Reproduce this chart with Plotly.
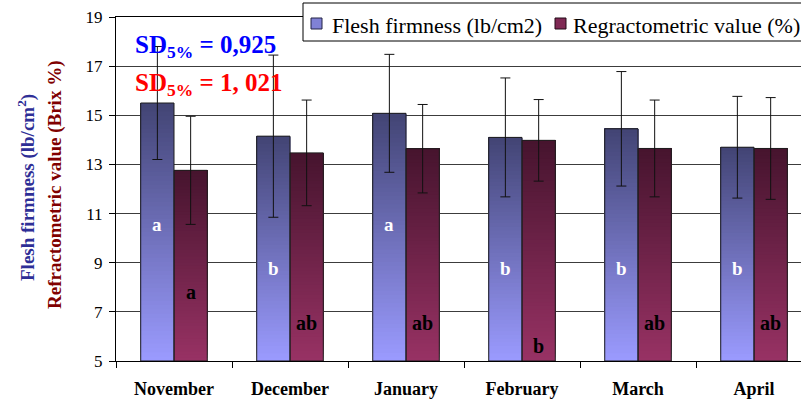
import plotly.graph_objects as go

# ---- data -------------------------------------------------------------
months = ["November", "December", "January", "February", "March", "April"]

firmness = [15.5, 14.15, 15.08, 14.1, 14.45, 13.7]        # lb/cm2
firmness_err = [2.3, 3.3, 2.4, 2.42, 2.33, 2.07]
firmness_groups = ["a", "b", "a", "b", "b", "b"]

brix = [12.76, 13.47, 13.64, 13.98, 13.65, 13.65]         # Brix %
brix_err = [2.2, 2.15, 1.8, 1.66, 1.97, 2.07]
brix_groups = ["a", "ab", "ab", "b", "ab", "ab"]

sd_firmness = "0,925"
sd_brix = "1, 021"

# ---- geometry / style -------------------------------------------------
W, H = 801, 402
ML, MR, MT, MB = 116, 0, 17, 41
PW, PH = W - ML - MR, H - MT - MB
Y0, Y1 = 5, 19
X_RANGE = [-0.5, 5.405]
BAR_W = 0.287

SERIF = "Liberation Serif, Times New Roman, serif"

BLUE_TOP, BLUE_BOTTOM = (66, 68, 116), (155, 155, 255)
RED_TOP, RED_BOTTOM = (70, 20, 46), (152, 50, 100)

# letter heights (data units) inside the bars
firm_label_y = {"a": 10.55, "b": 8.77}
brix_label_y = {"a": 7.8, "ab": 6.56, "b": 5.63}


def px_x(px):
    return (px - ML) / PW


def px_y(py):
    return (H - MB - py) / PH


def blend(c0, c1, t):
    return "rgb(%d,%d,%d)" % tuple(round(a + (b - a) * t) for a, b in zip(c0, c1))


x_idx = list(range(len(months)))
x_blue = [i - BAR_W / 2 for i in x_idx]
x_red = [i + BAR_W / 2 for i in x_idx]

fig = go.Figure()

# vertical gradient fill: each slice runs from its base up to the bar top,
# later (darker) slices are painted over the earlier ones
K = 60
for xs, vals, c_bot, c_top in [
    (x_blue, firmness, BLUE_BOTTOM, BLUE_TOP),
    (x_red, brix, RED_BOTTOM, RED_TOP),
]:
    for k in range(K):
        f = k / K
        fig.add_bar(
            x=xs,
            y=[(v - Y0) * (1 - f) for v in vals],
            base=[Y0 + (v - Y0) * f for v in vals],
            width=BAR_W,
            marker=dict(color=blend(c_bot, c_top, (k + 0.5) / K), line_width=0),
            showlegend=False,
            hoverinfo="skip",
        )

# outlines with error bars
for xs, vals, errs in [(x_blue, firmness, firmness_err), (x_red, brix, brix_err)]:
    fig.add_bar(
        x=xs,
        y=[v - Y0 for v in vals],
        base=[Y0] * len(vals),
        width=BAR_W,
        marker=dict(color="rgba(0,0,0,0)", line=dict(color="#1e1e1e", width=1)),
        error_y=dict(type="data", array=errs, color="#111111", thickness=1, width=5),
        showlegend=False,
        hoverinfo="skip",
    )

annotations = []

# significance letters
for i, g in enumerate(firmness_groups):
    annotations.append(dict(
        x=x_blue[i], y=firm_label_y[g], xref="x", yref="y", text="<b>%s</b>" % g,
        showarrow=False, font=dict(family=SERIF, size=19, color="white"),
        xanchor="center", yanchor="middle"))
for i, g in enumerate(brix_groups):
    annotations.append(dict(
        x=x_red[i], y=brix_label_y[g], xref="x", yref="y", text="<b>%s</b>" % g,
        showarrow=False, font=dict(family=SERIF, size=20, color="black"),
        xanchor="center", yanchor="middle"))

# SD values
annotations.append(dict(
    x=px_x(133), y=px_y(46), xref="paper", yref="paper",
    text="<b>SD<sub>5%</sub> = " + sd_firmness + "</b>", showarrow=False,
    font=dict(family=SERIF, size=25, color="#0000ff"), xanchor="left", yanchor="middle"))
annotations.append(dict(
    x=px_x(133), y=px_y(84), xref="paper", yref="paper",
    text="<b>SD<sub>5%</sub> = " + sd_brix + "</b>", showarrow=False,
    font=dict(family=SERIF, size=25, color="#ff0000"), xanchor="left", yanchor="middle"))

# y-axis titles
annotations.append(dict(
    x=px_x(26), y=px_y(188), xref="paper", yref="paper", textangle=-90,
    text="<b>Flesh firmness (lb/cm<sup>2</sup>)</b>", showarrow=False,
    font=dict(family=SERIF, size=19, color="#2e2e96"), xanchor="center", yanchor="middle"))
annotations.append(dict(
    x=px_x(55), y=px_y(185), xref="paper", yref="paper", textangle=-90,
    text="<b>Refractometric value (Brix %)</b>", showarrow=False,
    font=dict(family=SERIF, size=19, color="#800000"), xanchor="center", yanchor="middle"))

# legend box
shapes = [
    dict(type="rect", xref="paper", yref="paper",
         x0=px_x(303), x1=px_x(812), y0=px_y(41), y1=px_y(3),
         fillcolor="white", line=dict(color="black", width=1), layer="above"),
    dict(type="rect", xref="paper", yref="paper",
         x0=px_x(311), x1=px_x(322), y0=px_y(29), y1=px_y(18),
         fillcolor=blend(BLUE_BOTTOM, BLUE_TOP, 0.3), line=dict(color="#222244", width=1), layer="above"),
    dict(type="rect", xref="paper", yref="paper",
         x0=px_x(555), x1=px_x(566), y0=px_y(29), y1=px_y(18),
         fillcolor=blend(RED_BOTTOM, RED_TOP, 0.3), line=dict(color="#220a16", width=1), layer="above"),
]
annotations.append(dict(
    x=px_x(330), y=px_y(25), xref="paper", yref="paper", text="Flesh firmness (lb/cm2)",
    showarrow=False, font=dict(family=SERIF, size=22, color="black"),
    xanchor="left", yanchor="middle"))
annotations.append(dict(
    x=px_x(571), y=px_y(25), xref="paper", yref="paper", text="Regractometric value (%)",
    showarrow=False, font=dict(family=SERIF, size=22, color="black"),
    xanchor="left", yanchor="middle"))

fig.update_layout(
    width=W, height=H,
    margin=dict(l=ML, r=MR, t=MT, b=MB, pad=0),
    paper_bgcolor="white", plot_bgcolor="white",
    barmode="overlay",
    showlegend=False,
    annotations=annotations,
    shapes=shapes,
    xaxis=dict(
        range=X_RANGE, tickmode="array", tickvals=x_idx, ticktext=months,
        ticks="", showgrid=False, zeroline=False,
        showline=True, linecolor="black", linewidth=1, mirror=True,
        tickfont=dict(family=SERIF, size=18, color="black", weight="bold"),
        ticklabelstandoff=11,
        minor=dict(tickmode="array", tickvals=[i - 0.5 for i in range(len(months) + 1)],
                   ticks="outside", ticklen=6, tickcolor="black", tickwidth=1, showgrid=False),
    ),
    yaxis=dict(
        range=[Y0, Y1], tickmode="linear", tick0=Y0, dtick=2,
        ticks="outside", ticklen=6, tickcolor="black",
        showgrid=True, gridcolor="#3c3c3c", gridwidth=1, zeroline=False,
        showline=True, linecolor="black", linewidth=1,
        tickfont=dict(family=SERIF, size=17, color="black"),
        ticklabelstandoff=3,
    ),
)

fig.write_html("out.html")
